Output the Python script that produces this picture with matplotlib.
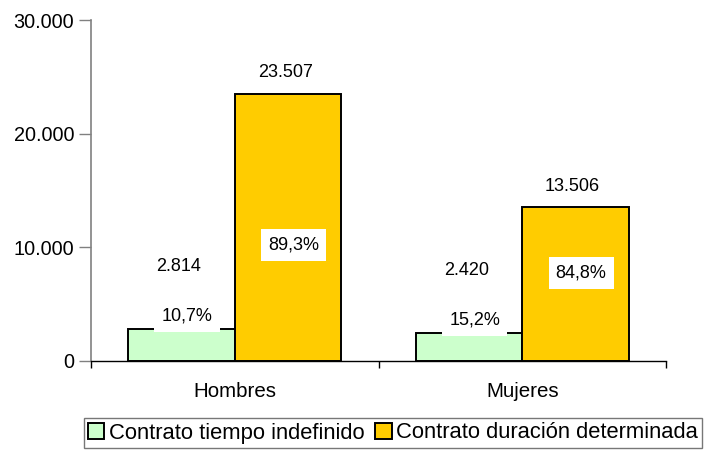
import numpy as np
import matplotlib.pyplot as plt

plt.rcParams['font.family'] = ['Liberation Sans', 'DejaVu Sans']

categorias = ["Hombres", "Mujeres"]
indefinido = [2814, 2420]
determinada = [23507, 13506]
pct_indefinido = ["10,7%", "15,2%"]
pct_determinada = ["89,3%", "84,8%"]
pct_determinada_y = [10200, 7750]
series_nombres = ["Contrato tiempo indefinido", "Contrato duración determinada"]

def fmt_miles(v):
    return f"{v:,.0f}".replace(",", ".")

fig = plt.figure(figsize=(7.07, 4.5), dpi=100)
ax = fig.add_axes([91/707, 89/450, 575/707, 341/450])

x = np.arange(len(categorias))
w = 0.37
b1 = ax.bar(x - w/2, indefinido, w, color='#CCFFCC', edgecolor='black', linewidth=1.4,
            label=series_nombres[0], zorder=2)
b2 = ax.bar(x + w/2, determinada, w, color='#FFCC00', edgecolor='black', linewidth=1.4,
            label=series_nombres[1], zorder=2)

fs_lab = 13
fs_tick = 14.3
fs_cat = 14.8
fs_leg = 15.8
caja = dict(boxstyle='square,pad=0.4', facecolor='white', edgecolor='none')
for i in range(len(categorias)):
    ax.annotate(fmt_miles(indefinido[i]), (x[i] - w/2, indefinido[i]), xytext=(-2, 45),
                textcoords='offset points', ha='center', va='center', fontsize=fs_lab)
    ax.annotate(pct_indefinido[i], (x[i] - w/2, indefinido[i]), xytext=(4, 9.5),
                textcoords='offset points', ha='center', va='center', fontsize=fs_lab,
                bbox=caja, zorder=5)
    ax.annotate(fmt_miles(determinada[i]), (x[i] + w/2, determinada[i]), xytext=(-2, 15),
                textcoords='offset points', ha='center', va='center', fontsize=fs_lab)
    ax.text(x[i] + w/2 + 0.02, pct_determinada_y[i], pct_determinada[i], ha='center',
            va='center', fontsize=fs_lab, bbox=caja, zorder=5)

ax.set_xlim(-0.5, len(categorias) - 0.5)
ax.set_ylim(0, 30000)
ax.set_yticks([0, 10000, 20000, 30000])
ax.set_yticklabels([fmt_miles(v) for v in [0, 10000, 20000, 30000]], fontsize=fs_tick)
ax.set_xticks(x)
ax.set_xticklabels(categorias, fontsize=fs_cat)
ax.set_xticks([-0.5, 0.5, 1.5], minor=True)
ax.tick_params(axis='x', which='major', length=0, pad=15)
ax.tick_params(axis='x', which='minor', length=5, width=1, color='black', direction='out')
ax.tick_params(axis='y', length=9, width=1, color='#808080', pad=3)

ax.spines['top'].set_visible(False)
ax.spines['right'].set_visible(False)
ax.spines['left'].set_color('#808080')
ax.spines['left'].set_linewidth(1.2)
ax.spines['bottom'].set_color('black')
ax.spines['bottom'].set_linewidth(1)

leg = fig.legend(handles=[b1, b2], loc='center', bbox_to_anchor=(393/707, 17/450), ncol=2,
                 fontsize=fs_leg, frameon=True, fancybox=False, edgecolor='#555555',
                 handlelength=0.75, handleheight=0.75, handletextpad=0.2, columnspacing=0.5,
                 borderpad=0.2, borderaxespad=0)
leg.get_frame().set_linewidth(1)

fig.savefig("out.png", dpi=100)
